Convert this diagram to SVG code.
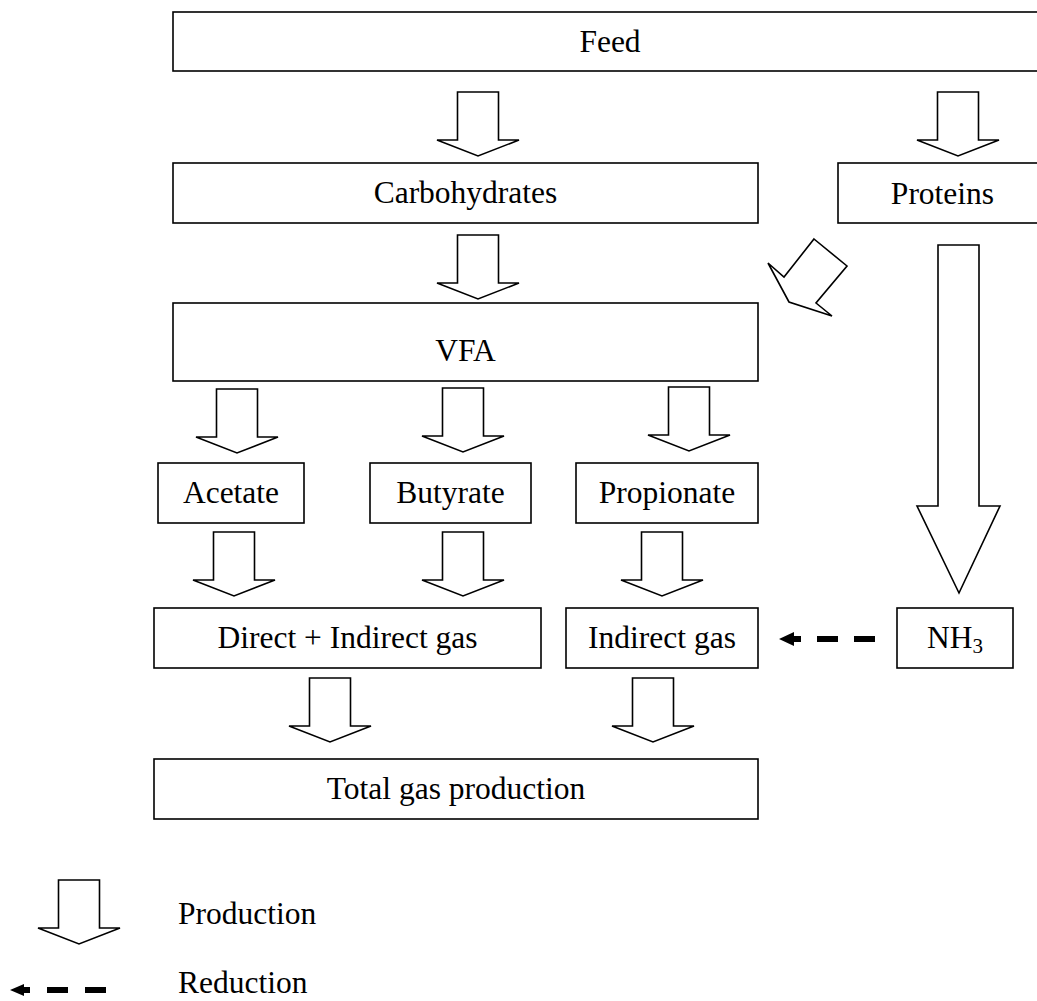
<svg xmlns="http://www.w3.org/2000/svg" xmlns:xlink="http://www.w3.org/1999/xlink" width="1037" height="1001" viewBox="0 0 1037 1001">
<style>
.box{fill:#fff;stroke:#000;stroke-width:1.6}
.t{font-family:"Liberation Serif","Times New Roman",serif;font-size:31.5px;fill:#000;text-anchor:middle}
.tl{font-family:"Liberation Serif","Times New Roman",serif;font-size:31.5px;fill:#000}
.arr{fill:#fff;stroke:#000;stroke-width:1.6;stroke-linejoin:miter}
</style>
<defs>
<path id="blk" class="arr" d="M-20.5,0 H20.5 V48 H41 L0,64 L-41,48 H-20.5 Z"/>
</defs>
<rect width="1037" height="1001" fill="#fff"/>
<g id="feed"><rect class="box" x="173" y="12" width="874" height="59"/><text class="t" x="610" y="52">Feed</text></g>
<g id="carbohydrates"><rect class="box" x="173" y="163" width="585" height="60"/><text class="t" x="465.5" y="203">Carbohydrates</text></g>
<g id="proteins"><rect class="box" x="838" y="163" width="209" height="60"/><text class="t" x="942.5" y="204">Proteins</text></g>
<g id="vfa"><rect class="box" x="173" y="303" width="585" height="78"/><text class="t" x="465.5" y="361">VFA</text></g>
<g id="acetate"><rect class="box" x="158" y="463" width="146" height="60"/><text class="t" x="231" y="503">Acetate</text></g>
<g id="butyrate"><rect class="box" x="370" y="463" width="161" height="60"/><text class="t" x="450.5" y="503">Butyrate</text></g>
<g id="propionate"><rect class="box" x="576" y="463" width="182" height="60"/><text class="t" x="667" y="503">Propionate</text></g>
<g id="direct-indirect"><rect class="box" x="154" y="608" width="387" height="60"/><text class="t" x="347.5" y="648">Direct + Indirect gas</text></g>
<g id="indirect"><rect class="box" x="566" y="608" width="192" height="60"/><text class="t" x="662" y="648">Indirect gas</text></g>
<g id="nh3"><rect class="box" x="897" y="608" width="116" height="60"/><text class="t" x="955" y="648">NH<tspan font-size="21" dy="5">3</tspan></text></g>
<g id="total"><rect class="box" x="154" y="759" width="604" height="60"/><text class="t" x="456" y="799">Total gas production</text></g>
<g id="connectors">
<use xlink:href="#blk" x="478" y="92"/>
<use xlink:href="#blk" x="958" y="92"/>
<use xlink:href="#blk" x="478" y="235"/>
<use xlink:href="#blk" x="237" y="389"/>
<use xlink:href="#blk" x="463" y="388"/>
<use xlink:href="#blk" x="689" y="387"/>
<use xlink:href="#blk" x="234" y="532"/>
<use xlink:href="#blk" x="463" y="532"/>
<use xlink:href="#blk" x="662" y="532"/>
<use xlink:href="#blk" x="330" y="678"/>
<use xlink:href="#blk" x="653" y="678"/>
<polygon class="arr" points="814,239 847,266 816,303 832,316 789,302 768,263 784,277"/>
<polygon class="arr" points="938,245 979,245 979,506 1000,506 959,593 917,506 938,506"/>
<line x1="875" y1="639" x2="786" y2="639" stroke="#000" stroke-width="6" stroke-dasharray="21 16"/>
<polygon points="779,639 794,632 794,646" fill="#000"/>
</g>
<g id="legend">
<use xlink:href="#blk" x="79" y="880"/>
<text class="tl" x="178" y="924">Production</text>
<line x1="106" y1="990" x2="17" y2="990" stroke="#000" stroke-width="6" stroke-dasharray="21 17"/>
<polygon points="10,990 24,984 24,996" fill="#000"/>
<text class="tl" x="178" y="993">Reduction</text>
</g>
</svg>
